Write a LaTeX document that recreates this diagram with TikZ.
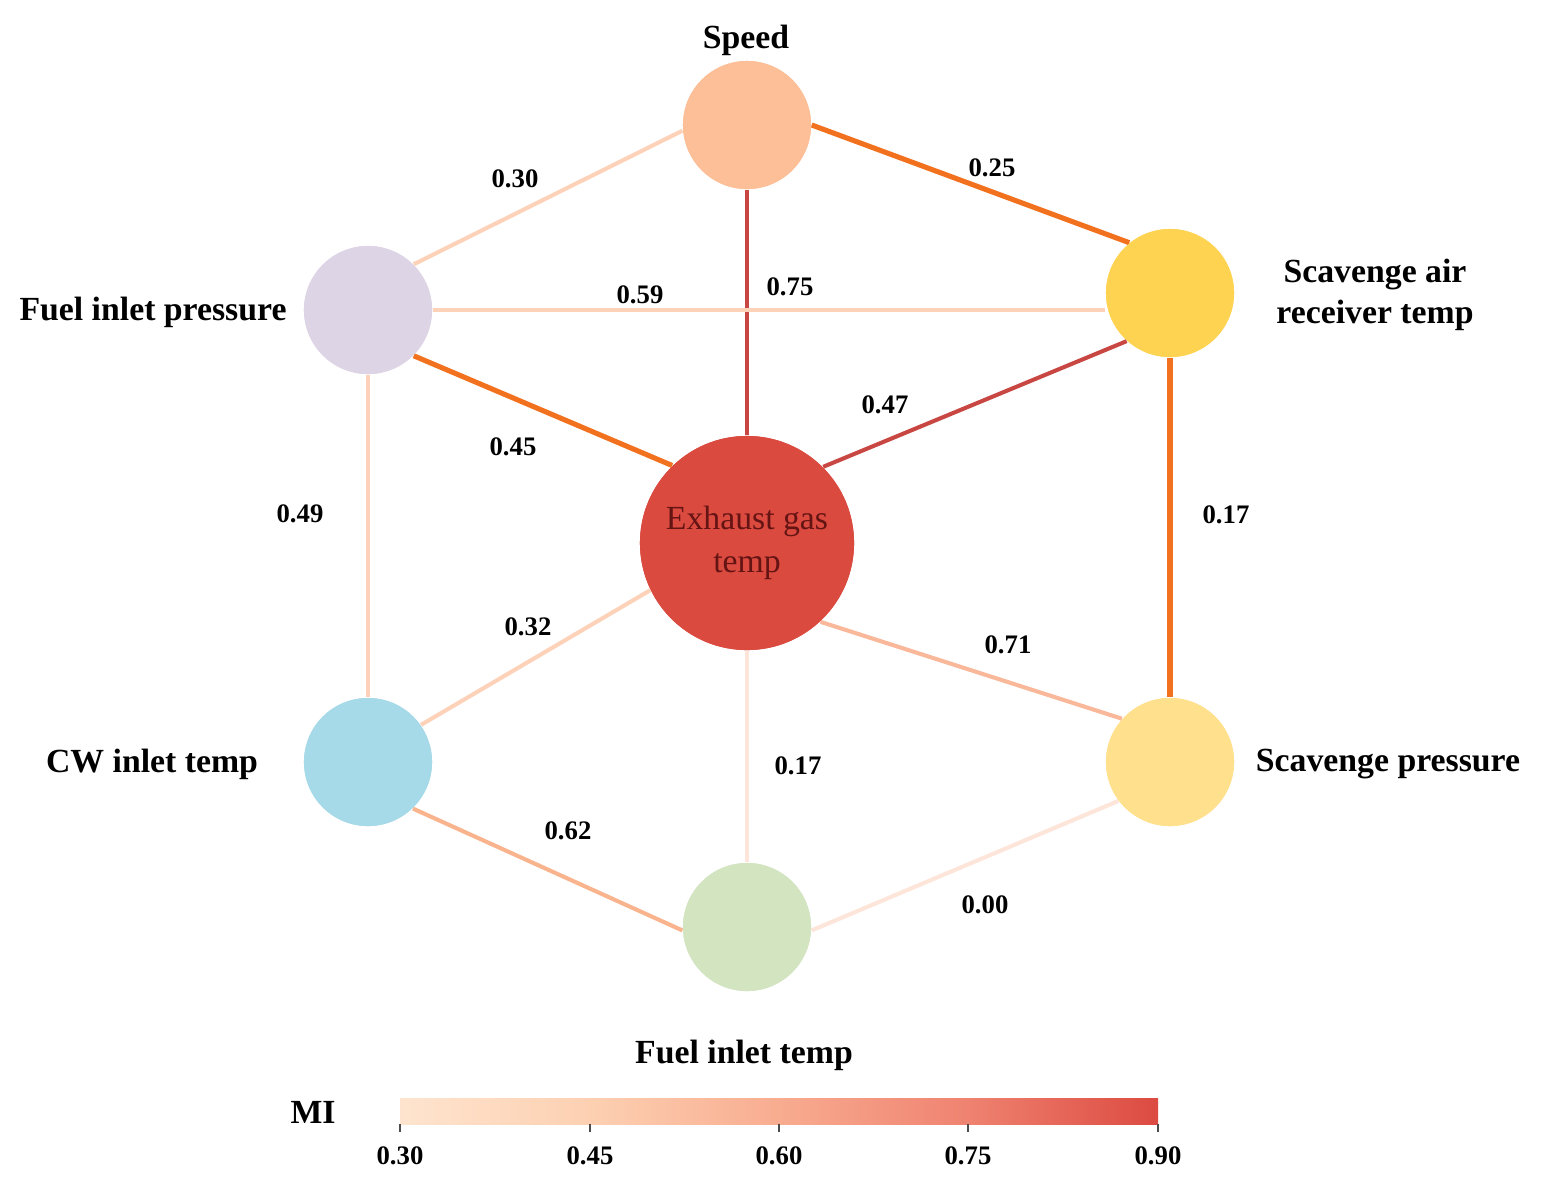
\documentclass[tikz,border=0pt]{standalone}
\usepackage{fontspec}
\setmainfont{Liberation Serif}
\definecolor{cSpeed}{HTML}{FDBF97}
\definecolor{cFIP}{HTML}{DDD4E6}
\definecolor{cSART}{HTML}{FFD352}
\definecolor{cEGT}{HTML}{DB4A3F}
\definecolor{cCW}{HTML}{A6DAE8}
\definecolor{cSP}{HTML}{FFE08C}
\definecolor{cFIT}{HTML}{D3E4C0}
\definecolor{eOrange}{HTML}{F2711F}
\definecolor{eRed}{HTML}{C94742}
\definecolor{ePeach}{HTML}{FDD2B9}
\definecolor{eSalmon}{HTML}{F9B899}
\definecolor{eMid}{HTML}{FAB48D}
\definecolor{eFaint}{HTML}{FDE5D9}
\definecolor{egtText}{HTML}{651414}
\definecolor{cb0}{HTML}{FEE4CE}
\definecolor{cb1}{HTML}{FDD0B2}
\definecolor{cb2}{HTML}{F8AC90}
\definecolor{cb3}{HTML}{EF8270}
\definecolor{cb4}{HTML}{DC4A41}
\pgfdeclarehorizontalshading{mishade}{100bp}{color(0bp)=(cb0); color(25bp)=(cb0); color(37.5bp)=(cb1); color(50bp)=(cb2); color(62.5bp)=(cb3); color(75bp)=(cb4); color(100bp)=(cb4)}
\begin{document}
\begin{tikzpicture}[x=0.01cm,y=-0.01cm,
  vnode/.style={circle, minimum size=1.28cm, inner sep=0pt, draw=none},
  bignode/.style={circle, minimum size=2.14cm, inner sep=0pt, draw=none, fill=cEGT,
     font=\fontsize{9.6}{12.2}\selectfont, text=egtText, align=center},
  lab/.style={font=\bfseries\fontsize{9.6}{11.8}\selectfont, align=center, inner sep=0pt},
  num/.style={font=\bfseries\fontsize{7.6}{9}\selectfont, inner sep=0pt},
  edge/.style={line width=1.15pt},
  thick edge/.style={line width=1.45pt}]
\useasboundingbox[fill=white] (0,0) rectangle (1542,1202);

% node positions
\node[vnode, fill=cSpeed] (speed) at (747,125) {};
\node[vnode, fill=cFIP] (fip) at (368,310) {};
\node[vnode, fill=cSART] (sart) at (1170,293) {};
\node[bignode] (egt) at (747,543) {Exhaust gas\\temp};
\node[vnode, fill=cCW] (cw) at (368,762) {};
\node[vnode, fill=cSP] (sp) at (1170,762) {};
\node[vnode, fill=cFIT] (fit) at (747,927) {};

% edges
\draw[edge, ePeach] (speed.185) -- (fip.45);
\draw[thick edge, eOrange] (speed.0) -- (sart.129);
\draw[edge, eRed] (speed) -- (egt);
\draw[edge, ePeach] (fip.east) -- (sart.west |- fip.east);
\draw[thick edge, eOrange] (fip.-45) -- (egt.134);
\draw[edge, eRed] (sart.-132) -- (egt.45);
\draw[edge, ePeach] (fip) -- (cw);
\draw[thick edge, eOrange] (sart) -- (sp);
\draw[edge, ePeach] (egt.206) -- (cw.35);
\draw[edge, eSalmon] (egt.-47) -- (sp.138);
\draw[edge, eFaint] (egt) -- (fit);
\draw[edge, eMid] (cw.-46) -- (fit.183);
\draw[edge, eFaint] (fit.-3) -- (sp.217);

% circles on top of the edges
\node[vnode, fill=cSpeed] at (speed) {};
\node[vnode, fill=cFIP] at (fip) {};
\node[vnode, fill=cSART] at (sart) {};
\node[bignode] at (egt) {Exhaust gas\\temp};
\node[vnode, fill=cCW] at (cw) {};
\node[vnode, fill=cSP] at (sp) {};
\node[vnode, fill=cFIT] at (fit) {};

% node labels
\node[lab] (lspeed) at (746,40) {Speed};
\node[lab] (lfip) at (153,312) {Fuel inlet pressure};
\node[lab] (lsart) at (1375,295) {Scavenge air\\receiver temp};
\node[lab] (lcw) at (152,764) {CW inlet temp};
\node[lab] (lsp) at (1388,764) {Scavenge pressure};
\node[lab] (lfit) at (744,1055) {Fuel inlet temp};

% edge labels
\node[num] (n1) at (515,179) {0.30};
\node[num] (n2) at (992,168) {0.25};
\node[num] (n3) at (790,287) {0.75};
\node[num] (n4) at (640,295) {0.59};
\node[num] (n5) at (513,447) {0.45};
\node[num] (n6) at (885,405) {0.47};
\node[num] (n7) at (300,514) {0.49};
\node[num] (n8) at (1226,515) {0.17};
\node[num] (n9) at (528,627) {0.32};
\node[num] (n10) at (1008,645) {0.71};
\node[num] (n11) at (798,766) {0.17};
\node[num] (n12) at (568,831) {0.62};
\node[num] (n13) at (985,905) {0.00};

% colorbar
\node[lab] (mi) at (313,1112) {MI};
\shade[shading=mishade] (400,1098) rectangle (1158,1124);
\foreach \x/\t in {400/0.30, 590/0.45, 779/0.60, 968/0.75, 1158/0.90}{
  \draw[line width=0.5pt, black!70] (\x,1124) -- (\x,1132);
  \node[num] at (\x,1156) {\t};
}
\end{tikzpicture}
\end{document}
